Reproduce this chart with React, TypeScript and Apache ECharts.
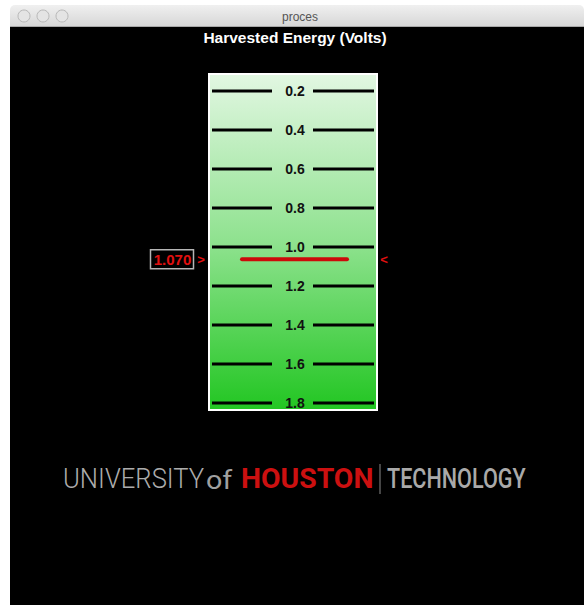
import React, { useEffect, useRef } from "react";
import * as echarts from "echarts";

const tickValues = [0.2, 0.4, 0.6, 0.8, 1.0, 1.2, 1.4, 1.6, 1.8];
const tickLabels = ["0.2", "0.4", "0.6", "0.8", "1.0", "1.2", "1.4", "1.6", "1.8"];
const levelValues = [1.07];
const levelLabels = ["1.070"];
const chartTitle = "Harvested Energy (Volts)";
const windowTitle = "proces";

// scale: 0.2 volt per 39 px, gauge from y=74 to y=410 (0.2 at y=91)
const PX_PER_UNIT = 195;
const GRID_TOP = 74;
const GRID_H = 336;
const Y_MIN = 0.2 - (91 - GRID_TOP) / PX_PER_UNIT;
const Y_MAX = Y_MIN + GRID_H / PX_PER_UNIT;

const FONT = '"Liberation Sans", Arial, Helvetica, sans-serif';

export default function App() {
  const ref = useRef<HTMLDivElement>(null);
  useEffect(() => {
    if (!ref.current) return;
    const chart = echarts.init(ref.current, null, { renderer: "svg" });
    const option: any = {
      animation: false,
      backgroundColor: "#ffffff",
      grid: {
        show: true,
        left: 209,
        top: GRID_TOP,
        width: 168,
        height: GRID_H,
        borderColor: "#ffffff",
        borderWidth: 2,
        backgroundColor: new echarts.graphic.LinearGradient(0, 0, 0, 1, [
          { offset: 0, color: "#e2f7e2" },
          { offset: 0.5, color: "#8fe28f" },
          { offset: 1, color: "#22c622" },
        ]),
        z: 1,
      },
      xAxis: { type: "value", min: 0, max: 1, show: false },
      yAxis: { type: "value", inverse: true, min: Y_MIN, max: Y_MAX, show: false },
      graphic: [
        // window chrome
        {
          type: "rect",
          z: -10,
          shape: { x: 10, y: 5, width: 574, height: 22, r: [5, 5, 0, 0] },
          style: {
            fill: new echarts.graphic.LinearGradient(0, 0, 0, 1, [
              { offset: 0, color: "#f0f0f0" },
              { offset: 1, color: "#d6d6d6" },
            ]),
          },
        },
        { type: "line", z: -9, shape: { x1: 10, y1: 26.5, x2: 584, y2: 26.5 }, style: { stroke: "#a8a8a8", lineWidth: 1 } },
        { type: "circle", z: -9, shape: { cx: 24, cy: 16, r: 6 }, style: { fill: "#e4e4e4", stroke: "#b8b8b8", lineWidth: 1 } },
        { type: "circle", z: -9, shape: { cx: 43, cy: 16, r: 6 }, style: { fill: "#e4e4e4", stroke: "#b8b8b8", lineWidth: 1 } },
        { type: "circle", z: -9, shape: { cx: 62, cy: 16, r: 6 }, style: { fill: "#e4e4e4", stroke: "#b8b8b8", lineWidth: 1 } },
        {
          type: "text",
          z: -9,
          style: { text: windowTitle, x: 300, y: 17, align: "center", verticalAlign: "middle", fill: "#555", font: `12px ${FONT}` },
        },
        { type: "rect", z: -10, shape: { x: 10, y: 27, width: 574, height: 578 }, style: { fill: "#000000" } },
        {
          type: "text",
          style: { text: chartTitle, x: 295, y: 37, align: "center", verticalAlign: "middle", fill: "#ffffff", font: `bold 15.5px ${FONT}` },
        },
        // logo
        {
          type: "text",
          x: 63,
          y: 479,
          scaleX: 0.95,
          style: { text: "UNIVERSITY", x: 0, y: 0, align: "left", verticalAlign: "middle", fill: "#acacac", font: `300 27px Roboto, sans-serif` },
        },
        {
          type: "text",
          x: 206,
          y: 480,
          scaleX: 1.1,
          style: { text: "of", x: 0, y: 0, align: "left", verticalAlign: "middle", fill: "#a0a0a0", font: `400 26px Roboto, sans-serif` },
        },
        {
          type: "text",
          x: 241,
          y: 479,
          scaleX: 1.05,
          style: { text: "HOUSTON", x: 0, y: 0, align: "left", verticalAlign: "middle", fill: "#cc1010", font: `bold 27px Roboto, sans-serif` },
        },
        { type: "line", shape: { x1: 380, y1: 464, x2: 380, y2: 494 }, style: { stroke: "#8a8a8a", lineWidth: 1 } },
        {
          type: "text",
          x: 387,
          y: 479,
          scaleX: 0.8,
          style: { text: "TECHNOLOGY", x: 0, y: 0, align: "left", verticalAlign: "middle", fill: "#a9a9a9", font: `500 27px Roboto, sans-serif` },
        },
      ],
      series: [
        {
          type: "custom",
          name: "ticks",
          coordinateSystem: "cartesian2d",
          z: 3,
          data: tickValues.map((v) => [0.5, v]),
          encode: { x: 0, y: 1 },
          renderItem: (params: any, api: any) => {
            const cs = params.coordSys;
            const y = api.coord([0.5, api.value(1)])[1];
            const label = tickLabels[params.dataIndex];
            return {
              type: "group",
              children: [
                { type: "line", shape: { x1: cs.x + 3, y1: y, x2: cs.x + 63, y2: y }, style: { stroke: "#000", lineWidth: 3 } },
                { type: "line", shape: { x1: cs.x + 104, y1: y, x2: cs.x + 165, y2: y }, style: { stroke: "#000", lineWidth: 3 } },
                {
                  type: "text",
                  style: {
                    text: label,
                    x: cs.x + 86,
                    y: y,
                    align: "center",
                    verticalAlign: "middle",
                    fill: "#111",
                    font: `bold 14px ${FONT}`,
                  },
                },
              ],
            };
          },
        },
        {
          type: "custom",
          name: "level",
          coordinateSystem: "cartesian2d",
          z: 4,
          clip: false,
          data: levelValues.map((v) => [0.5, v]),
          encode: { x: 0, y: 1 },
          renderItem: (params: any, api: any) => {
            const cs = params.coordSys;
            const y = api.coord([0.5, api.value(1)])[1] - 1.5;
            const label = levelLabels[params.dataIndex];
            return {
              type: "group",
              children: [
                {
                  type: "line",
                  shape: { x1: cs.x + 33, y1: y, x2: cs.x + 138, y2: y },
                  style: { stroke: "#cc0a0a", lineWidth: 4, lineCap: "round" },
                },
                {
                  type: "rect",
                  shape: { x: cs.x - 58.5, y: y - 9.5, width: 43, height: 19 },
                  style: { fill: "#000", stroke: "#b5b5b5", lineWidth: 1.5 },
                },
                {
                  type: "text",
                  style: { text: label, x: cs.x - 36.5, y: y, align: "center", verticalAlign: "middle", fill: "#e01010", font: `bold 15px ${FONT}` },
                },
                {
                  type: "text",
                  style: { text: ">", x: cs.x - 8, y: y, align: "center", verticalAlign: "middle", fill: "#e01010", font: `bold 13px ${FONT}` },
                },
                {
                  type: "text",
                  style: { text: "<", x: cs.x + 175, y: y, align: "center", verticalAlign: "middle", fill: "#e01010", font: `bold 13px ${FONT}` },
                },
              ],
            };
          },
        },
      ],
    };
    chart.setOption(option);
    return () => chart.dispose();
  }, []);
  return (
    <div
      ref={ref}
      style={{ position: "fixed", left: 0, top: 0, width: 584, height: 605 }}
    />
  );
}
